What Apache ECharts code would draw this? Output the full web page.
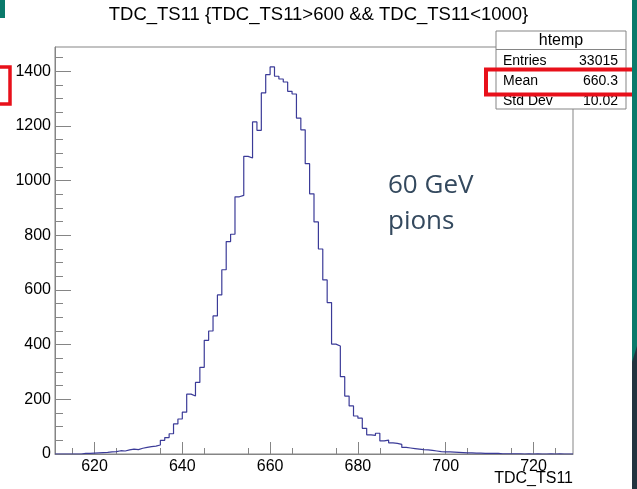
<!DOCTYPE html>
<html>
<head>
<meta charset="utf-8">
<script src="https://cdn.jsdelivr.net/npm/echarts@6/dist/echarts.min.js"></script>
<style>
html,body{margin:0;padding:0;background:#fff;}
#chart{width:637px;height:489px;}
</style>
</head>
<body>
<div id="chart"></div>
<script>
// ---- data ----
const binLow = 611;          // lower edge of first bin
const binWidth = 1;          // bin width
const counts = [
  0,0,0,0,0,0,2,2,3,4,            // 611-620
  5,6,8,9,12,11,15,18,16,21,      // 621-630
  24,27,29,33,50,60,74,110,128,153, // 631-640
  219,212,262,317,416,450,505,582,674,777, // 641-650
  804,941,946,1089,1083,1215,1184,1321,1388,1416, // 651-660
  1382,1372,1361,1327,1317,1229,1186,1062,952,849, // 661-670
  750,637,554,402,395,283,212,176,139,131, // 671-680
  94,70,68,76,48,51,41,39,35,24,  // 681-690
  22,20,18,16,15,13,11,9,8,8,     // 691-700
  7,6,5,4,4,3,3,2,2,2,            // 701-710
  2,1,1,1,1,1,0,1,0,1,            // 711-720
  0,0,1,0,1,0,0,0                 // 721-728
];
const xMin = 611, xMax = 729;
const yMin = 0, yMax = 1489;
const xMajorTicks = [620, 640, 660, 680, 700, 720];
const xMinorTicks = [615, 625, 635, 645, 655, 665, 675, 685, 695, 705, 715, 725];
const yMajorTicks = [0, 200, 400, 600, 800, 1000, 1200, 1400];
const yMinorTicks = [50,100,150,250,300,350,450,500,550,650,700,750,850,900,950,1050,1100,1150,1250,1300,1350,1450];
const titleText = 'TDC_TS11 {TDC_TS11>600 && TDC_TS11<1000}';
const xAxisTitle = 'TDC_TS11';
const statName = 'htemp';
const statLabels = ['Entries', 'Mean', 'Std Dev'];
const statValues = ['33015', '660.3', '10.02'];
const noteLines = ['60 GeV', 'pions'];

// build step points from bin edges
const pts = counts.map((c, i) => [binLow + i * binWidth, c]);
pts.push([binLow + counts.length * binWidth, counts[counts.length - 1]]);

const axisGrey = '#858585';
const chart = echarts.init(document.getElementById('chart'), null, {renderer: 'canvas'});
const font = '"Liberation Sans", Arial, Helvetica, sans-serif';
const plain = v => String(v);

chart.setOption({
  animation: false,
  backgroundColor: '#ffffff',
  grid: {left: 55, top: 47, right: 64, bottom: 35, show: true, borderColor: axisGrey, borderWidth: 1, backgroundColor: 'transparent'},
  xAxis: [
    {type: 'value', min: xMin, max: xMax, gridIndex: 0, position: 'bottom',
     axisLine: {show: true, onZero: false, lineStyle: {color: axisGrey, width: 1}},
     axisTick: {show: true, inside: true, length: 12, lineStyle: {color: axisGrey}, customValues: xMajorTicks},
     axisLabel: {show: true, customValues: xMajorTicks, formatter: plain, margin: 5, color: '#000', fontFamily: font, fontSize: 16},
     splitLine: {show: false}},
    {type: 'value', min: xMin, max: xMax, gridIndex: 0, position: 'bottom',
     axisLine: {show: false, onZero: false},
     axisTick: {show: true, inside: true, length: 6, lineStyle: {color: axisGrey}, customValues: xMinorTicks},
     axisLabel: {show: false},
     splitLine: {show: false}}
  ],
  yAxis: [
    {type: 'value', min: yMin, max: yMax, gridIndex: 0, position: 'left',
     axisLine: {show: true, onZero: false, lineStyle: {color: axisGrey, width: 1}},
     axisTick: {show: true, inside: true, length: 16, lineStyle: {color: axisGrey}, customValues: yMajorTicks},
     axisLabel: {show: true, customValues: yMajorTicks, formatter: plain, margin: 4, color: '#000', fontFamily: font, fontSize: 16},
     splitLine: {show: false}},
    {type: 'value', min: yMin, max: yMax, gridIndex: 0, position: 'left',
     axisLine: {show: false, onZero: false},
     axisTick: {show: true, inside: true, length: 8, lineStyle: {color: axisGrey}, customValues: yMinorTicks},
     axisLabel: {show: false},
     splitLine: {show: false}}
  ],
  series: [{
    type: 'line', xAxisIndex: 0, yAxisIndex: 0, step: 'end', data: pts,
    showSymbol: false, symbol: 'none',
    lineStyle: {color: '#3b3b98', width: 1.2},
    z: 3
  }],
  graphic: [
    {type: 'text', left: 'center', top: 5, style: {text: titleText, font: '18.5px ' + font, fill: '#000'}},
    {type: 'text', right: 64, top: 471, style: {text: xAxisTitle, font: '16px ' + font, fill: '#000'}},
    // stat box
    {type: 'rect', shape: {x: 496, y: 31, width: 130, height: 78}, style: {fill: '#fff', stroke: axisGrey, lineWidth: 1}, z: 10},
    {type: 'line', shape: {x1: 496, y1: 49.5, x2: 626, y2: 49.5}, style: {stroke: axisGrey, lineWidth: 1}, z: 11},
    {type: 'text', x: 561, y: 41, style: {text: statName, font: '16px ' + font, fill: '#000', align: 'center', verticalAlign: 'middle'}, z: 11},
    {type: 'text', x: 503, y: 61, style: {text: statLabels[0], font: '14px ' + font, fill: '#000', align: 'left', verticalAlign: 'middle'}, z: 11},
    {type: 'text', x: 618, y: 61, style: {text: statValues[0], font: '14px ' + font, fill: '#000', align: 'right', verticalAlign: 'middle'}, z: 11},
    {type: 'text', x: 503, y: 81.5, style: {text: statLabels[1], font: '14px ' + font, fill: '#000', align: 'left', verticalAlign: 'middle'}, z: 11},
    {type: 'text', x: 618, y: 81.5, style: {text: statValues[1], font: '14px ' + font, fill: '#000', align: 'right', verticalAlign: 'middle'}, z: 11},
    {type: 'text', x: 503, y: 101, style: {text: statLabels[2], font: '14px ' + font, fill: '#000', align: 'left', verticalAlign: 'middle'}, z: 11},
    {type: 'text', x: 618, y: 101, style: {text: statValues[2], font: '14px ' + font, fill: '#000', align: 'right', verticalAlign: 'middle'}, z: 11},
    // annotation text
    {type: 'text', x: 388, y: 186, style: {text: noteLines[0], font: '26px "Open Sans", sans-serif', fill: '#34495e', align: 'left', verticalAlign: 'middle'}, z: 12},
    {type: 'text', x: 388, y: 222, style: {text: noteLines[1], font: '26px "Open Sans", sans-serif', fill: '#34495e', align: 'left', verticalAlign: 'middle'}, z: 12},
    // red highlight boxes
    {type: 'rect', shape: {x: 486, y: 69.5, width: 170, height: 25}, style: {fill: 'none', stroke: '#e8101a', lineWidth: 4}, z: 20},
    {type: 'rect', shape: {x: -20, y: 67, width: 30, height: 37}, style: {fill: 'none', stroke: '#e8101a', lineWidth: 3.5}, z: 20},
    // slide decorations
    {type: 'rect', shape: {x: 0, y: 0, width: 5, height: 18}, style: {fill: '#0a7a6b'}, z: 21},
    {type: 'rect', shape: {x: 632, y: 0, width: 5, height: 362}, style: {fill: '#0a7a6b'}, z: 21},
    {type: 'polygon', shape: {points: [[632, 362], [637, 346], [637, 489], [632, 489]]}, style: {fill: '#22343f'}, z: 22}
  ]
});
</script>
</body>
</html>
